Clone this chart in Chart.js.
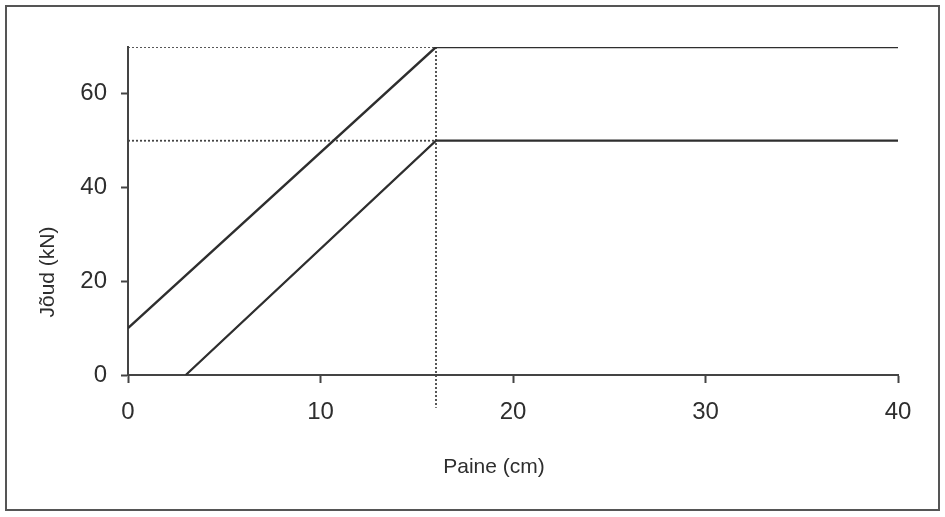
<!DOCTYPE html>
<html>
<head>
<meta charset="utf-8">
<script src="https://cdn.jsdelivr.net/npm/chart.js"></script>
<style>
  html, body { margin: 0; padding: 0; background: #fff; }
  #wrap { width: 945px; height: 517px; }
</style>
</head>
<body>
<div id="wrap"><canvas id="joud-chart" width="945" height="517"></canvas></div>
<script>
// loetud pildilt
var upperX = [0, 16, 40];
var upperY = [10, 70, 70];
var lowerX = [3, 16, 40];
var lowerY = [0, 50, 50];
var guideX = 16;
var guideLevels = [70, 50];
var guideBottom = -7;
var xTicks = [0, 10, 20, 30, 40];
var yTicks = [0, 20, 40, 60];
var xTitle = 'Paine (cm)';
var yTitle = 'Jõud (kN)';

var FONT = 'Liberation Sans, Arial, sans-serif';
var INK = '#2e2e2e';

function toPoints(xs, ys) {
    return xs.map(function (x, i) { return { x: x, y: ys[i] }; });
}

var datasets = [
    { data: toPoints(upperX, upperY), borderColor: INK, borderWidth: 2.4 },
    { data: toPoints(lowerX, lowerY), borderColor: INK, borderWidth: 2.2 }
];
guideLevels.forEach(function (lvl) {
    datasets.push({
        data: [{ x: xTicks[0], y: lvl }, { x: guideX, y: lvl }],
        borderColor: '#444', borderWidth: 1.8, borderDash: [2, 2]
    });
});
datasets.push({
    data: [{ x: guideX, y: guideLevels[0] }, { x: guideX, y: guideBottom }],
    borderColor: '#444', borderWidth: 1.8, borderDash: [2, 2], clip: false
});
datasets.forEach(function (d) {
    d.showLine = true;
    d.pointRadius = 0;
    d.pointHoverRadius = 0;
    d.fill = false;
});

// raam ja telgede pealkirjad (originaalis pole need telje keskel)
var frame = {
    id: 'frame',
    afterDraw: function (chart) {
        var ctx = chart.ctx;
        ctx.save();
        ctx.strokeStyle = '#555';
        ctx.lineWidth = 2;
        ctx.strokeRect(6, 6, 933, 504);

        ctx.fillStyle = INK;
        ctx.font = '21px ' + FONT;
        ctx.textAlign = 'center';
        ctx.textBaseline = 'middle';
        ctx.fillText(xTitle, 494, 467);

        ctx.translate(48, 272);
        ctx.rotate(-Math.PI / 2);
        ctx.fillText(yTitle, 0, 0);
        ctx.restore();
    }
};

new Chart(document.getElementById('joud-chart'), {
    type: 'scatter',
    data: { datasets: datasets },
    plugins: [frame],
    options: {
        responsive: false,
        animation: false,
        layout: { padding: { top: 47, right: 47, left: 0, bottom: 0 } },
        plugins: { legend: { display: false }, tooltip: { enabled: false } },
        scales: {
            x: {
                type: 'linear',
                min: 0,
                max: 40,
                afterFit: function (s) { s.height = 142; },
                afterBuildTicks: function (s) { s.ticks = xTicks.map(function (v) { return { value: v }; }); },
                grid: { drawOnChartArea: false, drawTicks: true, tickLength: 8, tickColor: '#444', tickWidth: 2 },
                border: { display: true, color: '#444', width: 2 },
                ticks: { color: INK, padding: 15, font: { family: FONT, size: 24 }, maxRotation: 0 }
            },
            y: {
                type: 'linear',
                min: 0,
                max: 70,
                afterFit: function (s) { s.width = 128; },
                afterBuildTicks: function (s) { s.ticks = yTicks.map(function (v) { return { value: v }; }); },
                grid: { drawOnChartArea: false, drawTicks: true, tickLength: 7, tickColor: '#444', tickWidth: 2 },
                border: { display: true, color: '#444', width: 2 },
                ticks: { color: INK, padding: 14, font: { family: FONT, size: 24 } }
            }
        }
    }
});
</script>
</body>
</html>
